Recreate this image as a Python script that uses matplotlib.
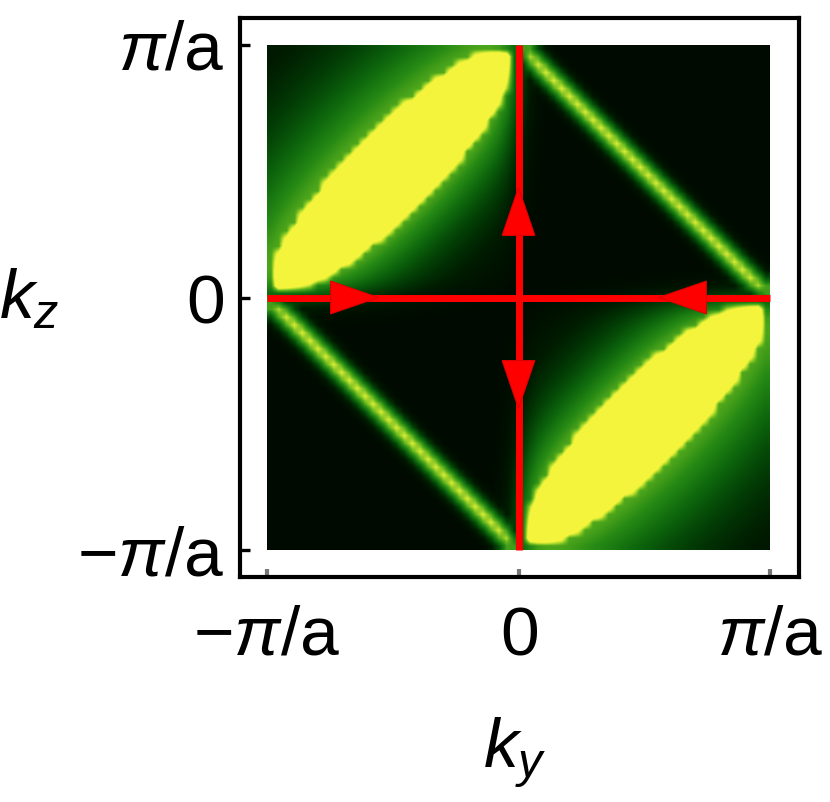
import numpy as np
import matplotlib
matplotlib.use("Agg")
import matplotlib.pyplot as plt
from matplotlib import font_manager as fm
from matplotlib.colors import LinearSegmentedColormap
from matplotlib.patches import Polygon

# ---------------- data (in units of pi/a) ----------------
tick_values = [-1.0, 0.0, 1.0]
x_tick_labels = [r"$-\pi/\mathrm{a}$", r"$0$", r"$\pi/\mathrm{a}$"]
y_tick_labels = [r"$-\pi/\mathrm{a}$", r"$0$", r"$\pi/\mathrm{a}$"]
x_label = r"$k_y$"
y_label = r"$k_z$"

# broad bright bands (upper-left and lower-right quadrants)
band_halfwidth = 0.235       # half-width of yellow core at its middle (pi units, horizontal)
band_halflength = 0.94       # half-length along the diagonal (pi units)
band_halo_peak = 0.43        # value just outside the yellow core
band_halo_decay_outer = 0.42 # green halo decay towards the outer corner (pi units)
band_halo_decay_inner = 0.28 # green halo decay towards the centre (pi units)
# thin lines (upper-right and lower-left quadrants), ky + kz = +-pi
line_peak = 0.57
line_sigma = 0.06            # pi units
# red arrows: tips (pi units) and directions
arrow_tip_ky = [-0.557, 0.557, 0.0, 0.0]
arrow_tip_kz = [0.0, 0.0, 0.436, -0.44]
arrow_dir_ky = [1, -1, 0, 0]
arrow_dir_kz = [0, 0, 1, -1]
grid_n = 64

# ---------------- fonts ----------------
def pick(names):
    for n in names:
        try:
            fm.findfont(fm.FontProperties(family=n), fallback_to_default=False)
            return n
        except Exception:
            pass
    return "DejaVu Sans"

FONT = pick(["Liberation Sans Narrow", "DejaVu Sans Condensed", "Liberation Sans", "DejaVu Sans"])
plt.rcParams["font.family"] = [FONT, "DejaVu Sans"]
plt.rcParams["mathtext.fontset"] = "custom"
plt.rcParams["mathtext.rm"] = FONT
plt.rcParams["mathtext.it"] = FONT + ":italic"
plt.rcParams["mathtext.bf"] = FONT + ":bold"
plt.rcParams["mathtext.sf"] = FONT

# ---------------- field ----------------
P = np.pi
edges = np.linspace(-P, P, grid_n + 1)
cent = 0.5 * (edges[:-1] + edges[1:])
KY, KZ = np.meshgrid(cent, cent)

def sig(x):
    return 1.0 / (1.0 + np.exp(-x))

def band(ky, kz):
    sd = kz - ky - P
    s = np.abs(sd)
    t = np.abs(ky + kz)
    T = band_halflength * P
    h = band_halfwidth * P * np.sqrt(np.clip(1 - (t / T) ** 2, 0, None))
    excess = np.maximum(s - h, t - T)
    decay = np.where(sd > 0, band_halo_decay_outer, band_halo_decay_inner) * P
    e = np.clip(excess, 0, None) / decay
    halo = band_halo_peak * np.exp(-e ** 1.3)
    core = np.clip(0.62 + (h - s) / (0.2 * P), 0, 1)
    val = np.where(excess <= 0, core, halo)
    w = sig(-ky / 0.1) * sig(kz / 0.1)
    return val * w

def line(ky, kz):
    u = ky + kz - P
    w = sig(ky / 0.06) * sig(kz / 0.06)
    return line_peak * np.exp(-(u / (line_sigma * P)) ** 2) * w

F = np.maximum.reduce([band(KY, KZ), band(-KY, -KZ), line(KY, KZ), line(-KY, -KZ)])

cmap = LinearSegmentedColormap.from_list("avocado", [
    (0.00, (0.00, 0.04, 0.00)),
    (0.06, (0.00, 0.10, 0.00)),
    (0.15, (0.01, 0.24, 0.02)),
    (0.25, (0.05, 0.40, 0.05)),
    (0.35, (0.15, 0.54, 0.08)),
    (0.45, (0.38, 0.70, 0.12)),
    (0.53, (0.72, 0.87, 0.18)),
    (0.60, (0.96, 0.96, 0.24)),
    (1.00, (0.96, 0.96, 0.24)),
])

# ---------------- figure ----------------
W_PX, H_PX = 830, 802
fig = plt.figure(figsize=(W_PX / 100, H_PX / 100), dpi=100)
L, R, Tp, B = 239.5, 799.0, 18.0, 577.0
ax = fig.add_axes([L / W_PX, 1 - B / H_PX, (R - L) / W_PX, (B - Tp) / H_PX])

ax.imshow(F, extent=(-P, P, -P, P), origin="lower", cmap=cmap, vmin=0, vmax=1,
          interpolation="bilinear", aspect="auto", zorder=1)

xpx = 503.0 / (2 * P)
ypx = 505.0 / (2 * P)
ax.set_xlim(-P - (267 - L) / xpx, P + (R - 770) / xpx)
ax.set_ylim(-P - (B - 550) / ypx, P + (45 - Tp) / ypx)

# red axes lines
ax.plot([-P, P], [0, 0], color="red", lw=5, solid_capstyle="butt", zorder=4)
ax.plot([0, 0], [-P, P], color="red", lw=5, solid_capstyle="butt", zorder=4)

# arrow heads
head_len = 0.19 * P
head_half = 0.065 * P
for tx, tz, dx, dz in zip(arrow_tip_ky, arrow_tip_kz, arrow_dir_ky, arrow_dir_kz):
    tip = np.array([tx * P, tz * P])
    d = np.array([dx, dz], float)
    perp = np.array([-d[1], d[0]])
    base = tip - d * head_len
    ax.add_patch(Polygon([tip, base + perp * head_half, base - perp * head_half],
                         closed=True, facecolor="red", edgecolor="#dd0000", lw=0.8, zorder=5))

for sp in ax.spines.values():
    sp.set_linewidth(3)
    sp.set_color("black")

ax.set_xticks([v * P for v in tick_values])
ax.set_xticklabels(x_tick_labels)
ax.set_yticks([v * P for v in tick_values])
ax.set_yticklabels(y_tick_labels)
ax.tick_params(axis="x", direction="in", length=6, width=3, color="#777777",
               labelsize=50, pad=20)
ax.tick_params(axis="y", direction="in", length=7, width=2.4, color="black",
               labelsize=50, pad=11)
ax.set_xlabel(x_label, fontsize=50, va="center", ha="center")
ax.set_ylabel(y_label, fontsize=50, rotation=0, va="center", ha="center")
ax.xaxis.set_label_coords((515 - L) / (R - L), (B - 752) / (B - Tp))
ax.yaxis.set_label_coords((29 - L) / (R - L), (B - 300) / (B - Tp))

fig.savefig("out.png", dpi=100, facecolor="white")
